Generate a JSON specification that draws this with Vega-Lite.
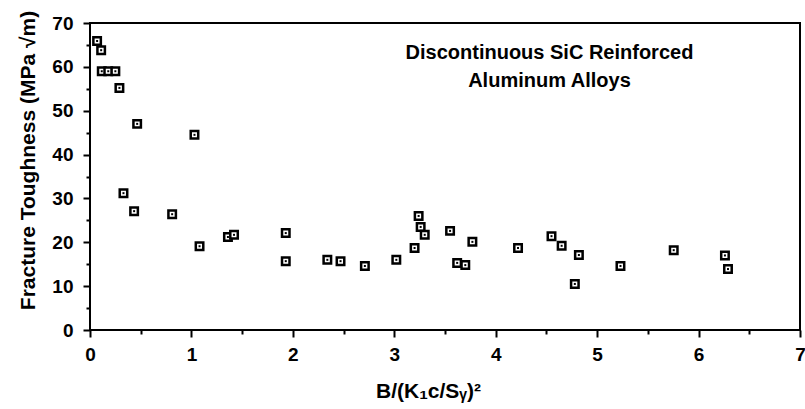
{
  "$schema": "https://vega.github.io/schema/vega-lite/v6.json",
  "autosize": {"type": "none"},
  "padding": {"left": 90, "top": 23, "right": 5, "bottom": 79},
  "width": 710,
  "height": 307,
  "background": "white",
  "config": {
    "view": {"stroke": "black", "strokeWidth": 2},
    "font": "Liberation Sans",
    "axis": {
      "zindex": 1,
      "grid": false,
      "domain": false,
      "ticks": true,
      "tickColor": "black",
      "tickOpacity": 1,
      "tickWidth": 2,
      "labelFont": "Liberation Sans",
      "labelFontWeight": "bold",
      "labelFontSize": 19,
      "labelColor": "black",
      "titleFont": "Liberation Sans, DejaVu Sans",
      "titleFontWeight": "bold",
      "titleFontSize": 21,
      "titleColor": "black",
      "labelOverlap": false,
      "labelFlush": false
    }
  },
  "data": {
    "values": [
      {"B": 0.07, "K": 65.9},
      {"B": 0.11, "K": 63.8},
      {"B": 0.116, "K": 59.0},
      {"B": 0.18, "K": 59.0},
      {"B": 0.25, "K": 59.0},
      {"B": 0.29, "K": 55.2},
      {"B": 0.465, "K": 47.0},
      {"B": 1.03, "K": 44.5},
      {"B": 0.33, "K": 31.2},
      {"B": 0.435, "K": 27.1},
      {"B": 0.81, "K": 26.4},
      {"B": 1.08, "K": 19.1},
      {"B": 1.36, "K": 21.2},
      {"B": 1.42, "K": 21.7},
      {"B": 1.93, "K": 22.1},
      {"B": 1.93, "K": 15.7},
      {"B": 2.34, "K": 16.0},
      {"B": 2.47, "K": 15.7},
      {"B": 2.71, "K": 14.6},
      {"B": 3.02, "K": 16.0},
      {"B": 3.2, "K": 18.7},
      {"B": 3.24, "K": 26.0},
      {"B": 3.26, "K": 23.5},
      {"B": 3.3, "K": 21.7},
      {"B": 3.55, "K": 22.6},
      {"B": 3.62, "K": 15.3},
      {"B": 3.7, "K": 14.8},
      {"B": 3.77, "K": 20.1},
      {"B": 4.22, "K": 18.7},
      {"B": 4.55, "K": 21.4},
      {"B": 4.65, "K": 19.2},
      {"B": 4.82, "K": 17.1},
      {"B": 4.78, "K": 10.5},
      {"B": 5.23, "K": 14.6},
      {"B": 5.755, "K": 18.2},
      {"B": 6.26, "K": 17.0},
      {"B": 6.29, "K": 13.9}
    ]
  },
  "resolve": {"axis": {"x": "independent", "y": "independent"}},
  "layer": [
    {
      "mark": {"type": "square", "size": 56, "fill": "white", "stroke": "black", "strokeWidth": 2.5, "opacity": 1},
      "encoding": {
        "x": {
          "field": "B",
          "type": "quantitative",
          "scale": {"domain": [0, 7], "nice": false, "zero": false},
          "axis": {
            "orient": "bottom",
            "title": "B/(K₁c/Sᵧ)²",
            "values": [0, 1, 2, 3, 4, 5, 6, 7],
            "format": "d",
            "tickSize": 7,
            "labelPadding": 8,
            "titleX": 338,
            "titleY": 67,
            "titleBaseline": "alphabetic",
            "titleAnchor": "middle",
            "titleAlign": "center"
          }
        },
        "y": {
          "field": "K",
          "type": "quantitative",
          "scale": {"domain": [0, 70], "nice": false},
          "axis": {
            "orient": "left",
            "title": "Fracture Toughness (MPa √m)",
            "values": [0, 10, 20, 30, 40, 50, 60, 70],
            "format": "d",
            "tickSize": 7,
            "labelPadding": 10,
            "titleX": -62,
            "titleY": 137,
            "titleBaseline": "middle",
            "titleAngle": -90,
            "titleAlign": "center"
          }
        }
      }
    },
    {
      "mark": {"type": "square", "size": 4, "color": "black", "opacity": 1},
      "encoding": {
        "x": {
          "field": "B",
          "type": "quantitative",
          "axis": {
            "orient": "bottom",
            "title": null,
            "values": [0.5, 1.5, 2.5, 3.5, 4.5, 5.5, 6.5],
            "labels": false,
            "tickSize": 4
          }
        },
        "y": {
          "field": "K",
          "type": "quantitative",
          "axis": {
            "orient": "left",
            "title": null,
            "values": [5, 15, 25, 35, 45, 55, 65],
            "labels": false,
            "tickSize": 4
          }
        }
      }
    },
    {
      "data": {"values": [{"note": ["Discontinuous SiC Reinforced", "Aluminum Alloys"]}]},
      "mark": {
        "type": "text",
        "font": "Liberation Sans",
        "fontWeight": "bold",
        "fontSize": 20,
        "align": "center",
        "baseline": "alphabetic",
        "lineHeight": 28,
        "color": "black"
      },
      "encoding": {
        "x": {"datum": 4.53, "type": "quantitative", "axis": null},
        "y": {"datum": 61.8, "type": "quantitative", "axis": null},
        "text": {"field": "note"}
      }
    }
  ]
}
